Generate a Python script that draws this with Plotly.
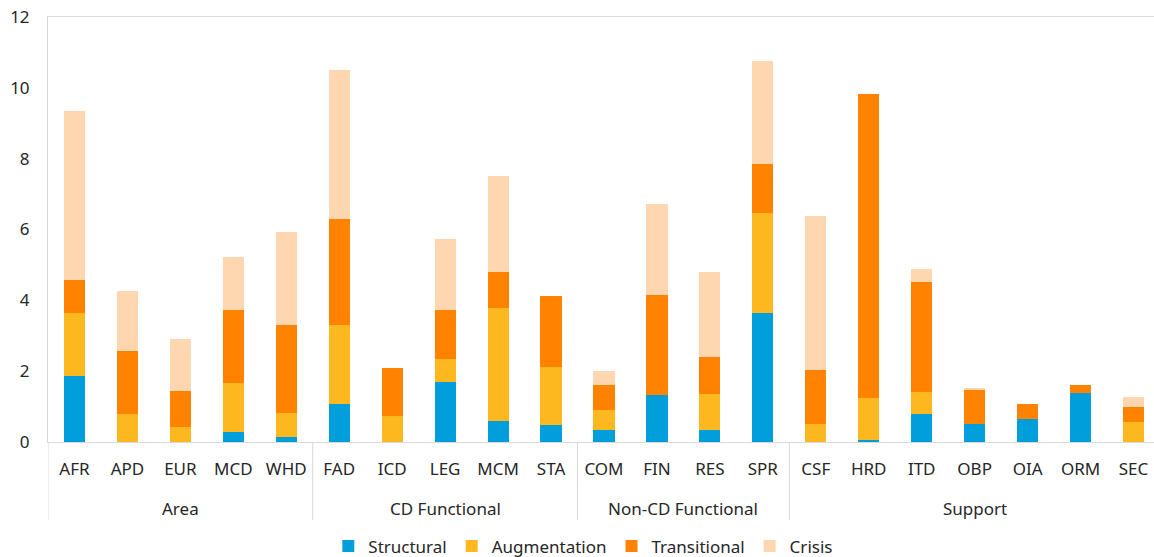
import plotly.graph_objects as go

categories = ["AFR", "APD", "EUR", "MCD", "WHD",
              "FAD", "ICD", "LEG", "MCM", "STA",
              "COM", "FIN", "RES", "SPR",
              "CSF", "HRD", "ITD", "OBP", "OIA", "ORM", "SEC"]
groups = ["Area", "CD Functional", "Non-CD Functional", "Support"]
group_sizes = [5, 5, 4, 7]

structural   = [1.87, 0.00, 0.00, 0.27, 0.15, 1.08, 0.00, 1.69, 0.60, 0.49, 0.33, 1.34, 0.35, 3.65, 0.00, 0.05, 0.80, 0.50, 0.66, 1.39, 0.00]
augmentation = [1.78, 0.80, 0.42, 1.40, 0.67, 2.23, 0.73, 0.66, 3.19, 1.63, 0.57, 0.00, 1.01, 2.82, 0.52, 1.19, 0.61, 0.00, 0.00, 0.00, 0.57]
transitional = [0.93, 1.78, 1.02, 2.07, 2.47, 2.98, 1.36, 1.37, 1.01, 1.99, 0.70, 2.82, 1.04, 1.39, 1.51, 8.59, 3.12, 0.97, 0.41, 0.21, 0.43]
crisis       = [4.77, 1.69, 1.48, 1.47, 2.64, 4.22, 0.00, 2.02, 2.72, 0.00, 0.40, 2.57, 2.40, 2.91, 4.36, 0.00, 0.35, 0.03, 0.00, 0.00, 0.27]

series = [
    ("Structural", structural, "#009FDB"),
    ("Augmentation", augmentation, "#FDB820"),
    ("Transitional", transitional, "#FF8300"),
    ("Crisis", crisis, "#FED7B0"),
]

FONT = "Noto Sans"
TXT = "#262626"
LINE = "#D9D9D9"

fig = go.Figure()
for name, vals, col in series:
    fig.add_trace(go.Bar(x=categories, y=vals, name=name,
                         marker=dict(color=col, line=dict(width=0))))

H_PLOT = 557 - 17 - 115
def py(pix):
    return (442 - pix) / H_PLOT

shapes = []
annotations = []
start = 0
for g, n in zip(groups, group_sizes):
    shapes.append(dict(type="line", xref="x", yref="paper",
                       x0=start - 0.5, x1=start - 0.5, y0=0, y1=py(520),
                       line=dict(color=LINE, width=1)))
    annotations.append(dict(x=start + (n - 1) / 2, xref="x", y=py(508), yref="paper",
                            text=g, showarrow=False, xanchor="center", yanchor="middle",
                            font=dict(family=FONT, size=17, color=TXT)))
    start += n

fig.update_layout(
    width=1154, height=557,
    margin=dict(l=48, r=0, t=17, b=115, autoexpand=False),
    barmode="stack", bargap=0.6,
    plot_bgcolor="white", paper_bgcolor="white",
    font=dict(family=FONT, size=17, color=TXT),
    shapes=shapes, annotations=annotations,
    showlegend=True,
    legend=dict(orientation="h", x=0.484, xanchor="center", y=py(546.5), yanchor="middle",
                font=dict(family=FONT, size=17, color=TXT), traceorder="normal",
                itemclick=False),
    xaxis=dict(type="category", categoryorder="array", categoryarray=categories,
               range=[-0.5, 20.387], showgrid=False, showline=True, linecolor=LINE,
               linewidth=1, mirror=True, ticks="", ticklabelstandoff=12, automargin=False,
               tickfont=dict(family=FONT, size=17, color=TXT)),
    yaxis=dict(range=[0, 12], dtick=2, showgrid=False, showline=True, linecolor=LINE,
               linewidth=1, ticks="", zeroline=False, ticklabelstandoff=14, automargin=False,
               tickfont=dict(family=FONT, size=17, color=TXT)),
)

fig.write_html("out.html", config={"displayModeBar": False},
               post_script="document.body.style.margin='0';document.body.style.overflow='hidden';")
